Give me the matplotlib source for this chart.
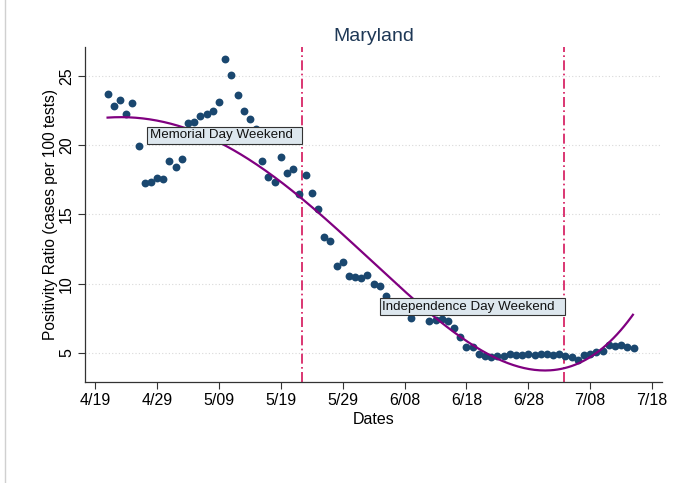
import numpy as np
import matplotlib
matplotlib.use('Agg')
import matplotlib.pyplot as plt
from matplotlib.lines import Line2D

plt.rcParams['font.family'] = ['Liberation Sans', 'DejaVu Sans']

# days counted from 4/19/2020
days = list(range(2, 48)) + [51] + list(range(54, 88))
ratio = [23.74, 22.84, 23.30, 22.24, 23.02, 19.96, 17.24, 17.32, 17.65, 17.53,
         18.90, 18.40, 19.02, 21.62, 21.69, 22.10, 22.29, 22.48, 23.13, 26.26,
         25.06, 23.64, 22.48, 21.88, 21.20, 18.85, 17.72, 17.36, 19.12, 17.97,
         18.28, 16.47, 17.84, 16.52, 15.39, 13.39, 13.06, 11.28, 11.57, 10.56,
         10.51, 10.43, 10.61, 9.98, 9.86, 9.13,
         7.55,
         7.31, 7.38, 7.43, 7.31, 6.78, 6.13, 5.45, 5.45, 4.93, 4.81,
         4.73, 4.78, 4.81, 4.93, 4.86, 4.83, 4.91, 4.88, 4.91, 4.93,
         4.88, 4.95, 4.81, 4.69, 4.49, 4.83, 4.90, 5.05, 5.15, 5.60,
         5.50, 5.60, 5.40, 5.38]

# fitted trend
trend_days = [2, 8.4, 13.7, 21.2, 27.7, 31.5, 36.0, 51.4, 60.5, 66.7, 72.4, 75.6, 79.9, 83.7, 86.9]
trend_vals = [22.1, 21.81, 21.28, 19.93, 17.97, 16.88, 15.51, 8.95, 5.45, 4.01, 3.72, 3.97, 5.09, 6.18, 7.43]

tick_days = [0, 10, 20, 30, 40, 50, 60, 70, 80, 90]
tick_labels = ['4/19', '4/29', '5/09', '5/19', '5/29', '6/08', '6/18', '6/28', '7/08', '7/18']
y_ticks = [5, 10, 15, 20, 25]

# holiday weekend markers and their label heights
events = ['Memorial Day Weekend', 'Independence Day Weekend']
event_days = [33.4, 75.8]
event_label_y = [20.73, 8.35]

fig = plt.figure(figsize=(6.79, 4.83), dpi=100)
ax = fig.add_axes([85 / 679, 1 - 382 / 483, 577 / 679, 335 / 483])

for yv in y_ticks:
    ax.axhline(yv, color='#d9d9d9', lw=0.8, ls=(0, (1, 2)), zorder=0)

ax.scatter(days, ratio, s=32, color='#1a476f', zorder=3, linewidths=0)

# smooth polynomial through the trend readings
coef = np.polyfit(trend_days, trend_vals, 4)
xs = np.linspace(min(trend_days), max(trend_days), 300)
ax.plot(xs, np.polyval(coef, xs), color='#800080', lw=1.6, zorder=4)

for name, d, ly in zip(events, event_days, event_label_y):
    ax.axvline(d, color='#d4145a', lw=1.2, ls=(0, (6, 2, 1, 2)), zorder=2)
    ax.text(d - 0.3, ly, name + '  ', ha='right', va='center', fontsize=9.6,
            color='#111111', zorder=6,
            bbox=dict(boxstyle='square,pad=0.18', facecolor='#dde7ee',
                      edgecolor='#333333', linewidth=0.8))

ax.set_xlim(-1.65, 91.6)
ax.set_ylim(2.9, 27.1)
ax.set_xticks(tick_days)
ax.set_xticklabels(tick_labels, fontsize=11.5)
ax.set_yticks(y_ticks)
ax.set_yticklabels([str(v) for v in y_ticks], fontsize=11.5, rotation=90, va='center')
ax.tick_params(axis='both', direction='out', length=5, width=0.8, color='#333333')
ax.tick_params(axis='x', pad=3)
ax.tick_params(axis='y', pad=3)

for side in ['top', 'right']:
    ax.spines[side].set_visible(False)
for side in ['left', 'bottom']:
    ax.spines[side].set_color('#333333')
    ax.spines[side].set_linewidth(0.9)

ax.set_xlabel('Dates', fontsize=11.5, labelpad=3)
ax.set_ylabel('Positivity Ratio (cases per 100 tests)', fontsize=11.2, labelpad=0.5)
ax.set_title('Maryland', fontsize=14, color='#1e3856', pad=4)

# faint frame of the original screenshot
fig.add_artist(Line2D([5 / 679, 5 / 679], [0, 1], color='#d0d0d0', lw=1))

fig.savefig('out.png', dpi=100, facecolor='white')
